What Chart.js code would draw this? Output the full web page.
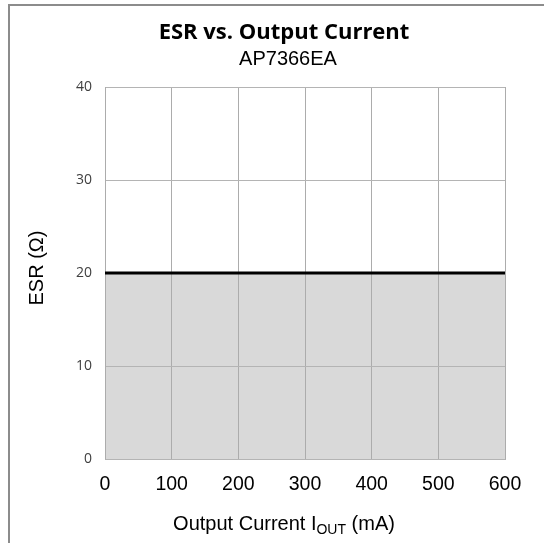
<!DOCTYPE html>
<html>
<head>
<meta charset="utf-8">
<script src="https://cdn.jsdelivr.net/npm/chart.js@4"></script>
<style>
  html, body { margin: 0; padding: 0; background: #fff; }
  #wrap { position: relative; width: 544px; height: 543px; }
  canvas { position: absolute; left: 0; top: 0; }
</style>
</head>
<body>
<div id="wrap"><canvas id="c" width="544" height="543"></canvas></div>
<script>
const currents = [0, 600];
const esr = [20, 20];
const xTicks = [0, 100, 200, 300, 400, 500, 600];
const yTicks = [0, 10, 20, 30, 40];
const titleText = 'ESR vs. Output Current';
const subtitleText = 'AP7366EA';
const yTitle = 'ESR (Ω)';
const xTitleMain = 'Output Current I';
const xTitleSub = 'OUT';
const xTitleEnd = ' (mA)';

const decor = {
  id: 'decor',
  afterDatasetDraw(chart, args) {
    // redraw gridlines on top of the shaded fill, below the line
    if (args.index === 1) {
      chart.scales.x.drawGrid(chart.chartArea);
      chart.scales.y.drawGrid(chart.chartArea);
    }
  },
  afterDraw(chart) {
    const ctx = chart.ctx;
    ctx.save();
    // outer frame (top and left edges visible)
    ctx.strokeStyle = '#8c8c8c';
    ctx.lineWidth = 2;
    ctx.beginPath();
    ctx.moveTo(9, 543);
    ctx.lineTo(9, 5);
    ctx.lineTo(544, 5);
    ctx.stroke();
    // titles
    ctx.fillStyle = '#000';
    ctx.textAlign = 'center';
    ctx.textBaseline = 'middle';
    ctx.font = 'bold 22px "Open Sans", sans-serif';
    ctx.fillText(titleText, 284, 33);
    ctx.font = '20px "Liberation Sans", Arial, sans-serif';
    ctx.fillText(subtitleText, 288, 59);
    // y title
    ctx.save();
    ctx.translate(37, 268);
    ctx.rotate(-Math.PI / 2);
    ctx.font = '20px "Liberation Sans", Arial, sans-serif';
    ctx.fillText(yTitle, 0, 0);
    ctx.restore();
    // x title with subscript
    const fMain = '20px "Liberation Sans", Arial, sans-serif';
    const fSub = '14px "Liberation Sans", Arial, sans-serif';
    ctx.font = fMain;
    const w1 = ctx.measureText(xTitleMain).width;
    const w3 = ctx.measureText(xTitleEnd).width;
    ctx.font = fSub;
    const w2 = ctx.measureText(xTitleSub).width;
    const total = w1 + w2 + w3;
    let x = 284 - total / 2;
    const y = 523;
    ctx.textAlign = 'left';
    ctx.textBaseline = 'alphabetic';
    ctx.font = fMain;
    ctx.fillText(xTitleMain, x, y + 7);
    x += w1;
    ctx.font = fSub;
    ctx.fillText(xTitleSub, x, y + 11);
    x += w2;
    ctx.font = fMain;
    ctx.fillText(xTitleEnd, x, y + 7);
    ctx.restore();
  }
};

const pts = currents.map((c, i) => ({ x: c, y: esr[i] }));

new Chart(document.getElementById('c'), {
  type: 'line',
  data: {
    datasets: [{
      data: pts,
      borderColor: '#000',
      borderWidth: 3,
      fill: false,
      pointRadius: 0,
      tension: 0
    }, {
      data: pts,
      borderWidth: 0,
      borderColor: 'rgba(0,0,0,0)',
      backgroundColor: '#d9d9d9',
      fill: 'origin',
      pointRadius: 0,
      tension: 0
    }]
  },
  options: {
    responsive: false,
    animation: false,
    layout: { padding: { top: 87, left: 0, right: 39, bottom: 0 } },
    plugins: {
      legend: { display: false },
      title: { display: false },
      tooltip: { enabled: false }
    },
    scales: {
      x: {
        type: 'linear',
        min: 0, max: 600,
        afterBuildTicks: s => { s.ticks = xTicks.map(v => ({ value: v })); },
        afterFit: s => { s.height = 84; },
        grid: { color: '#acacac', lineWidth: 1, drawTicks: false },
        border: { color: '#b0b0b0' },
        ticks: {
          padding: 14,
          color: '#000',
          font: { family: '"Liberation Sans", Arial, sans-serif', size: 19.5 },
          maxRotation: 0
        }
      },
      y: {
        min: 0, max: 40,
        afterBuildTicks: s => { s.ticks = yTicks.map(v => ({ value: v })); },
        afterFit: s => { s.width = 105; },
        grid: { color: '#b4b4b4', lineWidth: 1, drawTicks: false },
        border: { color: '#b0b0b0' },
        ticks: {
          padding: 13,
          color: '#404040',
          font: { family: '"Open Sans", sans-serif', size: 14 }
        }
      }
    }
  },
  plugins: [decor]
});
</script>
</body>
</html>
